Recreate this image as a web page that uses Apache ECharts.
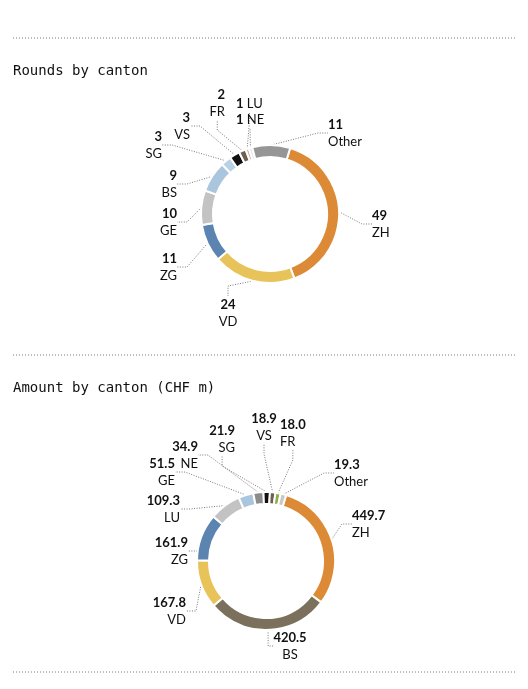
<!DOCTYPE html><html><head><meta charset="utf-8">
<script src="https://cdn.jsdelivr.net/npm/echarts@6/dist/echarts.min.js"></script>
<style>body{margin:0;background:#fff}#c{width:528px;height:689px}</style></head><body><div id="c"></div>
<script>
const roundCats=['ZH','VD','ZG','GE','BS','SG','VS','FR','LU','NE','Other'];
const roundVals=[49,24,11,10,9,3,3,2,1,1,11];
const amountCats=['ZH','BS','VD','ZG','LU','GE','NE','SG','VS','FR','Other'];
const amountVals=[449.7,420.5,167.8,161.9,109.3,51.5,34.9,21.9,18.9,18.0,19.3];

const roundColors={ZH:'#dc8a35',VD:'#e8c35a',ZG:'#5b84b1',GE:'#c3c3c3',BS:'#a9c6de',SG:'#b9d1e4',VS:'#111111',FR:'#6e5f50',LU:'#c9b7b0',NE:'#e6e6e6',Other:'#969696'};
const amountColors={ZH:'#dc8a35',BS:'#7a705b',VD:'#e8c35a',ZG:'#5b84b1',LU:'#c3c3c3',GE:'#a9c6de',NE:'#8c8c8c',SG:'#111111',VS:'#6e5f50',FR:'#8fae4a',Other:'#c8c8c8'};
const roundPos={ZH:[372,224,'left'],VD:[228,313,'center'],ZG:[177,267,'right'],GE:[177,222,'right'],BS:[177,184,'right'],SG:[162,145,'right'],VS:[190,126,'right'],FR:[225,103,'right'],LU:[236,104,'left'],NE:[236,120,'left'],Other:[328,133,'left']};
const amountPos={ZH:[352,524,'left'],BS:[290,646,'center'],VD:[186,611,'right'],ZG:[188,551,'right'],LU:[180,509,'right'],GE:[175,472,'right'],NE:[198,455,'right'],SG:[235,439,'right'],VS:[264,427,'center'],FR:[280,433,'left'],Other:[334,473,'left']};

function series(cats,vals,colors,pos,center,dec,inline){
  return {type:'pie',center:center,radius:[57,69],startAngle:73,clockwise:true,
    avoidLabelOverlap:false,
    itemStyle:{borderColor:'#fff',borderWidth:2},
    data:cats.map((c,i)=>({name:c,value:vals[i],itemStyle:{color:colors[c]}})),
    label:{show:true,lineHeight:17,
      formatter:p=>{const v=p.value.toFixed(dec);return inline.includes(p.name)?'{v|'+v+'} {n|'+p.name+'}':'{v|'+v+'}\n{n|'+p.name+'}';},
      rich:{v:{fontFamily:'Lato',fontWeight:'bold',fontSize:13,color:'#111',lineHeight:17},
            n:{fontFamily:'Lato',fontSize:13,color:'#111',lineHeight:17}}},
    labelLine:{show:true,length:10,length2:10,lineStyle:{color:'#777',type:[1,1.5],width:1}},
    labelLayout:function(p){const q=pos[cats[p.dataIndex]];
      return q?{x:q[0],y:q[1],align:q[2],verticalAlign:'middle'}:{};},
    emphasis:{disabled:true}};
}
const chart=echarts.init(document.getElementById('c'));
const sep=y=>({type:'line',shape:{x1:13,y1:y,x2:515,y2:y},style:{stroke:'#777',lineDash:[1,2],lineWidth:1}});
const ts={fontFamily:'DejaVu Sans Mono',fontSize:14,fontWeight:'normal',color:'#111'};
chart.setOption({
  animation:false,
  title:[{text:'Rounds by canton',left:8,top:59,textStyle:ts},
         {text:'Amount by canton (CHF m)',left:8,top:376,textStyle:ts}],
  graphic:[sep(38),sep(355),sep(672)],
  series:[series(roundCats,roundVals,roundColors,roundPos,[270,214],0,['LU','NE']),
          series(amountCats,amountVals,amountColors,amountPos,[266,561],1,[])]
});
</script></body></html>
